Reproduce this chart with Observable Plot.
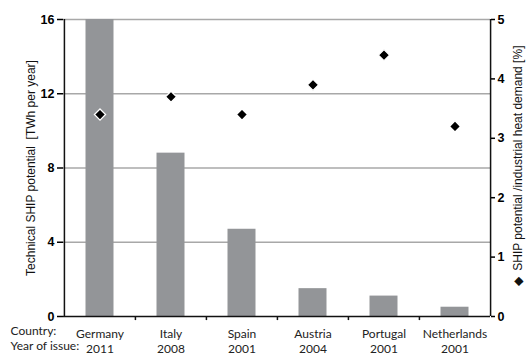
<!DOCTYPE html>
<html>
<head>
<meta charset="utf-8">
<script src="https://cdn.jsdelivr.net/npm/d3@7"></script>
<script src="https://cdn.jsdelivr.net/npm/@observablehq/plot@0.6"></script>
<style>
  html, body { margin: 0; padding: 0; background: #fff; }
</style>
</head>
<body>
<div id="chart"></div>
<script>
const countries = ["Germany", "Italy", "Spain", "Austria", "Portugal", "Netherlands"];
const years = ["2011", "2008", "2001", "2004", "2001", "2001"];
const potentialTWh = [16, 8.8, 4.7, 1.5, 1.1, 0.5];
const sharePct = [3.4, 3.7, 3.4, 3.9, 4.4, 3.2];
const leftTicks = [0, 4, 8, 12, 16];
const rightTicks = [0, 1, 2, 3, 4, 5];
const gridValues = [4, 8, 12, 16];
const leftTitle = "Technical SHIP potential  [TWh per year]";
const rightTitle = "\u25C6  SHIP potential /industrial heat demand [%]";
const rowLabels = ["Country:", "Year of issue:"];

const rows = countries.map((c, i) => ({country: c, year: years[i], twh: potentialTWh[i], pct: sharePct[i]}));

const W = 532, H = 362, ML = 63, MR = 42, MT = 19, MB = 46;
const bw = (W - ML - MR) / countries.length;
const k = 16 / 5;
const catFont = "Lato, 'Open Sans', sans-serif";

const chart = Plot.plot({
  width: W, height: H,
  marginLeft: ML, marginRight: MR, marginTop: MT, marginBottom: MB,
  style: {fontFamily: "'Liberation Sans', Arial, sans-serif", fontSize: "12px", background: "#fff", color: "#000"},
  x: {domain: countries, padding: 0, axis: null},
  y: {domain: [0, 16], axis: null},
  marks: [
    Plot.ruleY(gridValues, {stroke: "#a8a8a8", strokeWidth: 1.5}),
    Plot.barY(rows, {x: "country", y: "twh", fill: "#939598", insetLeft: 21.5, insetRight: 21.5, clip: true}),
    Plot.ruleY([0], {stroke: "#111", strokeWidth: 1.5}),
    Plot.ruleX([countries[0]], {dx: -bw / 2, stroke: "#111", strokeWidth: 1.5}),
    Plot.ruleX([countries[countries.length - 1]], {dx: bw / 2, stroke: "#111", strokeWidth: 1.5}),
    Plot.ruleX(countries.slice(1), {x: d => d, dx: -bw / 2, y1: 0, y2: -0.22, stroke: "#111", strokeWidth: 1.5}),
    Plot.axisY({anchor: "left", ticks: leftTicks, tickSize: 6, tickPadding: 3, fontWeight: "bold", fontSize: 12.5, label: null, strokeWidth: 1.5}),
    Plot.axisY({anchor: "right", ticks: rightTicks.map(v => v * k), tickFormat: d => String(Math.round(d / k)), tickSize: 4, tickPadding: 3, fontWeight: "bold", fontSize: 12.5, label: null, strokeWidth: 1.5}),
    Plot.dot(rows, {x: "country", y: d => d.pct * k, symbol: "diamond2", r: 5, fill: "#000", stroke: "#fff", strokeWidth: 1.3}),
    Plot.text([leftTitle], {frameAnchor: "left", dx: -32, rotate: -90, textAnchor: "middle", fontSize: 12, fill: "#111"}),
    Plot.text([rightTitle], {frameAnchor: "right", dx: 28, dy: -2, rotate: -90, textAnchor: "middle", fontSize: 12, fill: "#111"}),
    Plot.text(rows, {x: "country", y: 0, text: "country", dy: 18, fontSize: 12, fontFamily: catFont, fill: "#222"}),
    Plot.text(rows, {x: "country", y: 0, text: "year", dy: 33, fontSize: 12, fontFamily: catFont, fill: "#222"}),
    Plot.text([rowLabels[0]], {frameAnchor: "bottom-left", dx: -53, dy: 18, textAnchor: "start", fontSize: 12, fontFamily: catFont, fill: "#222"}),
    Plot.text([rowLabels[1]], {frameAnchor: "bottom-left", dx: -53, dy: 33, textAnchor: "start", fontSize: 12, fontFamily: catFont, fill: "#222"})
  ]
});
document.getElementById("chart").appendChild(chart);
</script>
</body>
</html>
